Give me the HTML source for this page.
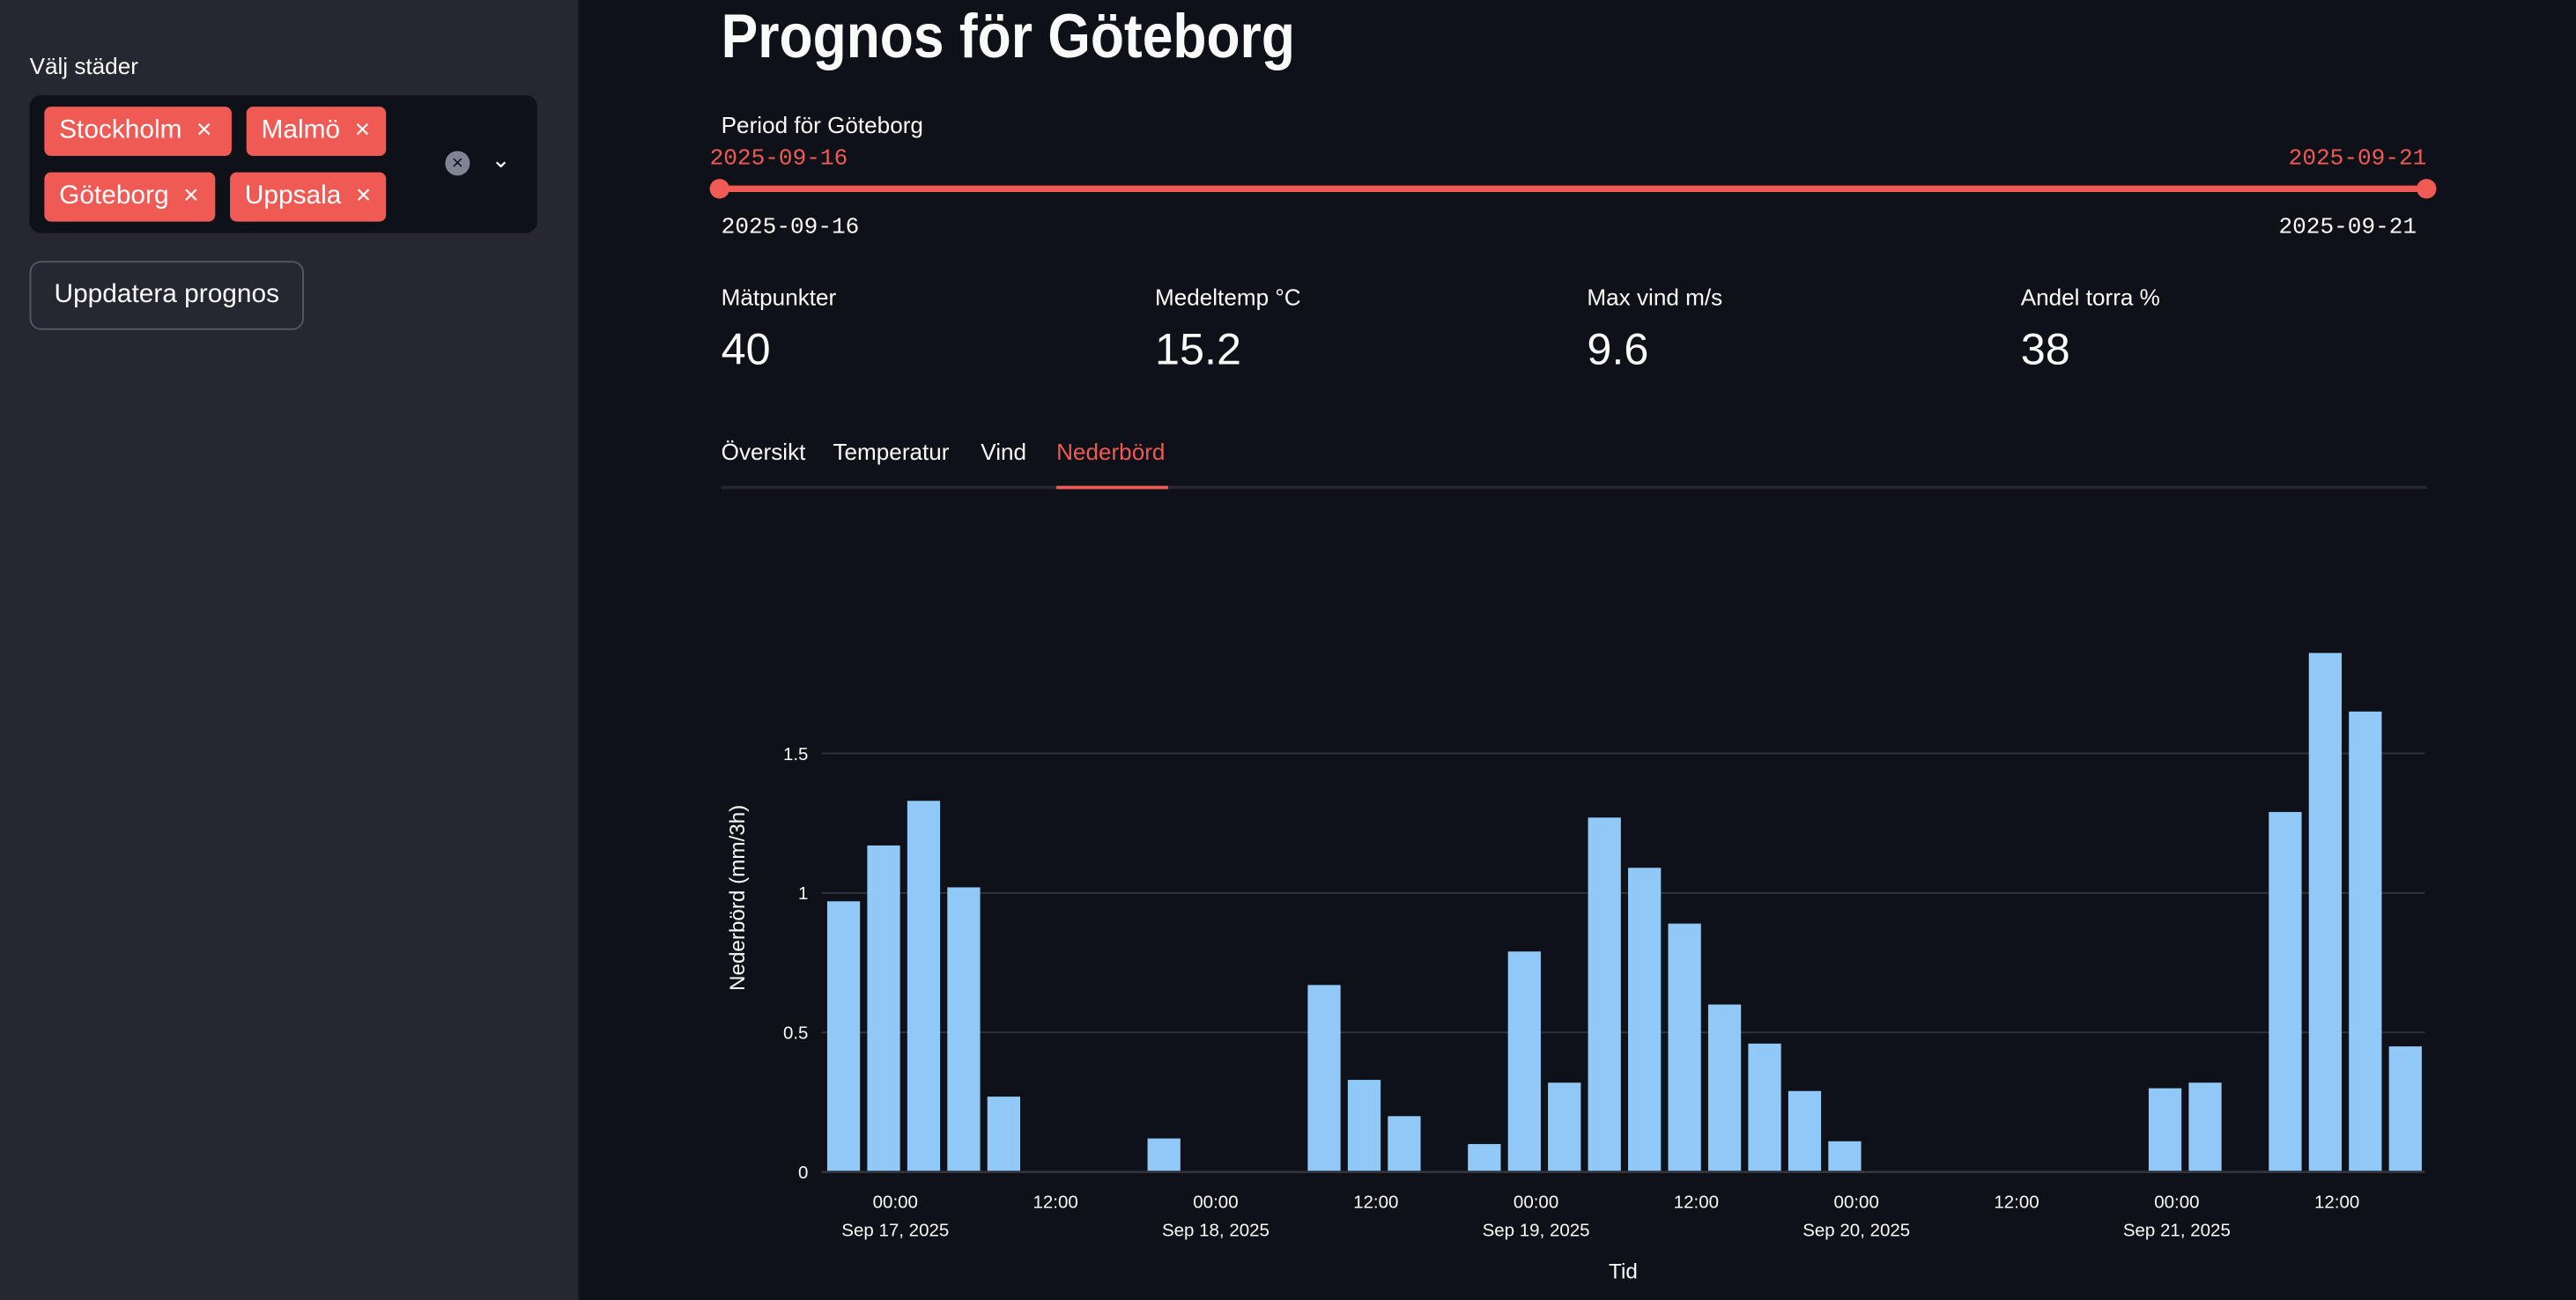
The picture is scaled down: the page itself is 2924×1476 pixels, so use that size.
<!DOCTYPE html>
<html><head><meta charset="utf-8"><style>
html,body{margin:0;padding:0;width:2924px;height:1476px;overflow:hidden;background:#0e1117;}
#root{position:absolute;left:0;top:0;width:1568px;height:792px;transform:scale(1.8648,1.8636);transform-origin:0 0;font-family:"Liberation Sans",sans-serif;color:#fafafa;}
.abs{position:absolute;white-space:nowrap;}
#side{position:absolute;left:0;top:0;width:352px;height:792px;background:#262730;}
.tag{position:absolute;height:30px;background:#ef5a55;border-radius:4px;color:#fff;font-size:16px;line-height:30px;padding-left:9px;box-sizing:border-box;}
.mono{font-family:"Liberation Mono",monospace;}
</style></head><body>
<div id="root">
<div id="side">
  <div class="abs" style="left:18px;top:32px;font-size:14px;">Välj städer</div>
  <div class="abs" style="left:18px;top:58px;width:309px;height:84px;background:#0e1117;border-radius:7px;">
    <div class="tag" style="left:9px;top:7px;width:114px;">Stockholm&nbsp; ×</div>
    <div class="tag" style="left:132px;top:7px;width:85px;">Malmö&nbsp; ×</div>
    <div class="tag" style="left:9px;top:47px;width:104px;">Göteborg&nbsp; ×</div>
    <div class="tag" style="left:122px;top:47px;width:95px;">Uppsala&nbsp; ×</div>
    <div class="abs" style="left:253px;top:34px;width:15px;height:15px;border-radius:50%;background:#808495;color:#0e1117;font-size:12px;line-height:15px;text-align:center;">×</div>
    <div class="abs" style="left:281px;top:31px;font-size:14px;color:#fafafa;">⌄</div>
  </div>
  <div class="abs" style="left:18px;top:159px;width:167px;height:42px;box-sizing:border-box;border:1px solid #555862;border-radius:7px;font-size:16px;line-height:40px;text-align:center;">Uppdatera prognos</div>
</div>

<div class="abs" style="left:439px;top:0px;font-size:38px;font-weight:bold;line-height:46px;transform:scaleX(0.88);transform-origin:0 0;">Prognos för Göteborg</div>
<div class="abs" style="left:439px;top:68px;font-size:14px;">Period för Göteborg</div>
<div class="abs mono" style="left:432px;top:89px;font-size:14px;color:#ef5a55;">2025-09-16</div>
<div class="abs mono" style="left:1393px;top:89px;font-size:14px;color:#ef5a55;">2025-09-21</div>
<div class="abs" style="left:439px;top:113px;width:1038px;height:4px;background:#ef5a55;border-radius:2px;"></div>
<div class="abs" style="left:432px;top:109px;width:12px;height:12px;border-radius:50%;background:#ef5a55;"></div>
<div class="abs" style="left:1471px;top:109px;width:12px;height:12px;border-radius:50%;background:#ef5a55;"></div>
<div class="abs mono" style="left:439px;top:131px;font-size:14px;">2025-09-16</div>
<div class="abs mono" style="left:1387px;top:131px;font-size:14px;">2025-09-21</div>

<div class="abs" style="left:439px;top:173px;font-size:14px;">Mätpunkter</div>
<div class="abs" style="left:439px;top:198px;font-size:27px;">40</div>
<div class="abs" style="left:703px;top:173px;font-size:14px;">Medeltemp °C</div>
<div class="abs" style="left:703px;top:198px;font-size:27px;">15.2</div>
<div class="abs" style="left:966px;top:173px;font-size:14px;">Max vind m/s</div>
<div class="abs" style="left:966px;top:198px;font-size:27px;">9.6</div>
<div class="abs" style="left:1230px;top:173px;font-size:14px;">Andel torra %</div>
<div class="abs" style="left:1230px;top:198px;font-size:27px;">38</div>

<div class="abs" style="left:439px;top:267px;font-size:14px;">Översikt</div>
<div class="abs" style="left:507px;top:267px;font-size:14px;">Temperatur</div>
<div class="abs" style="left:597px;top:267px;font-size:14px;">Vind</div>
<div class="abs" style="left:643px;top:267px;font-size:14px;color:#ef5a55;">Nederbörd</div>
<div class="abs" style="left:439px;top:296px;width:1038px;height:2px;background:#262730;"></div>
<div class="abs" style="left:643px;top:296px;width:68px;height:2px;background:#ef5a55;"></div>

<svg id="chart" class="abs" style="left:0;top:0;" width="1568" height="792"></svg>
</div>
<script>
const values=[0.97,1.17,1.33,1.02,0.27,0,0,0,0.12,0,0,0,0.67,0.33,0.20,0,0.10,0.79,0.32,1.27,1.09,0.89,0.60,0.46,0.29,0.11,0,0,0,0,0,0,0,0.30,0.32,0,1.29,1.86,1.65,0.45];
const startHour=-4;
const stepHours=3;
const yTicks=[0,0.5,1,1.5];
const yTickLabels=["0","0.5","1","1.5"];
const xTickHours=[0,12,24,36,48,60,72,84,96,108];
const xTickLabels=["00:00","12:00","00:00","12:00","00:00","12:00","00:00","12:00","00:00","12:00"];
const xDateLabels=["Sep 17, 2025","","Sep 18, 2025","","Sep 19, 2025","","Sep 20, 2025","","Sep 21, 2025",""];
const NS="http://www.w3.org/2000/svg";
const svg=document.getElementById('chart');
const x0=500,x1=1476,y0=714,pxPerUnit=170,pxPerHour=195/24,zeroX=545;
const xs=h=>zeroX+h*pxPerHour;
const ys=v=>y0-v*pxPerUnit;
function mk(t,a){const e=document.createElementNS(NS,t);for(const k in a)e.setAttribute(k,a[k]);svg.appendChild(e);return e;}
yTicks.forEach((v,i)=>{
  if(v>0){const g=mk('line',{x1:x0,x2:x1,y1:ys(v),y2:ys(v),stroke:'#31333b','stroke-width':1});
  
  }
  const t=mk('text',{x:492,y:ys(v)+4,'text-anchor':'end','font-size':11,fill:'#fafafa','font-family':'Liberation Sans, sans-serif'});
  t.textContent=yTickLabels[i];
  
  
});
const bw=pxPerHour*stepHours*0.82;
values.forEach((v,i)=>{
  const cx=xs(startHour+i*stepHours)+1;
  const r=mk('rect',{x:cx-bw/2,y:ys(v),width:bw,height:Math.max(0,y0-ys(v)),fill:'#90c8f8'});
  
  
});
const ax=mk('line',{x1:x0,x2:x1,y1:y0,y2:y0,stroke:'#31333b','stroke-width':1.5});


xTickHours.forEach((h,i)=>{
  const t=mk('text',{x:xs(h),y:736,'text-anchor':'middle','font-size':11,fill:'#fafafa','font-family':'Liberation Sans, sans-serif'});
  t.textContent=xTickLabels[i];
  
  
  if(xDateLabels[i]){const d=mk('text',{x:xs(h),y:753,'text-anchor':'middle','font-size':11,fill:'#fafafa','font-family':'Liberation Sans, sans-serif'});
  d.textContent=xDateLabels[i];
  
  }
});
const xt=mk('text',{x:988,y:779,'text-anchor':'middle','font-size':13,fill:'#fafafa','font-family':'Liberation Sans, sans-serif'});
xt.textContent='Tid';


const yt=mk('text',{x:0,y:0,'text-anchor':'middle','font-size':13,fill:'#fafafa','font-family':'Liberation Sans, sans-serif',transform:'translate(453,547) rotate(-90)'});
yt.textContent='Nederbörd (mm/3h)';


</script>
</body></html>
